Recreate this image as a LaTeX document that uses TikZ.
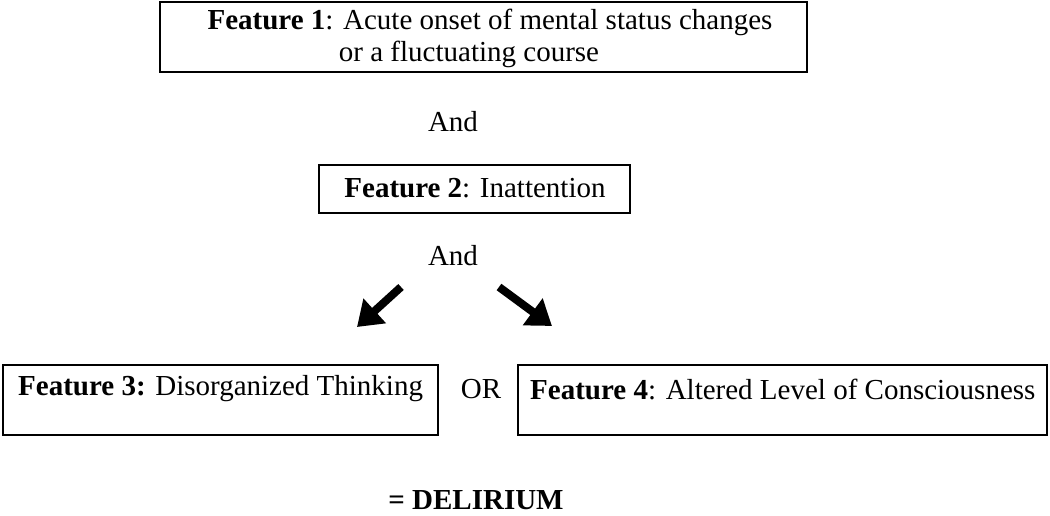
\documentclass[tikz,border=0pt]{standalone}
\usepackage{fontspec}
\setmainfont{Liberation Serif}
\usetikzlibrary{arrows.meta}
\begin{document}
\begin{tikzpicture}[x=1pt,y=-1pt,
  box/.style={draw,line width=1.5pt},
  txt/.style={inner sep=0pt,font=\fontsize{29}{33}\selectfont},
  bigarrow/.style={line width=8pt,-{Triangle[length=24pt,width=32pt]}}]
\useasboundingbox (0,0) rectangle (1050,516);
\draw[box] (160,2) rectangle (807,72);
\node[txt] (f1a) at (490,22) {\textbf{Feature 1}: Acute onset of mental status changes};
\node[txt] (f1b) at (469,54) {or a fluctuating course};
\node[txt] (and1) at (453,122) {And};
\draw[box] (319,165) rectangle (630,213);
\node[txt] (f2) at (475,188) {\textbf{Feature 2}: Inattention};
\node[txt] (and2) at (453,256) {And};
\coordinate (la) at (401,287);
\coordinate (lb) at (357,327);
\coordinate (ra) at (499,287);
\coordinate (rb) at (552,326);
\draw[bigarrow] (la) -- (lb);
\draw[bigarrow] (ra) -- (rb);
\draw[box] (3,365) rectangle (438,435);
\node[txt,anchor=west] (f3) at (18,389) {\textbf{Feature 3:} Disorganized Thinking};
\node[txt] (or) at (481,389) {OR};
\draw[box] (518,365) rectangle (1047,435);
\node[txt,anchor=west] (f4) at (530,389) {\textbf{Feature 4}: Altered Level of Consciousness};
\node[txt] (del) at (476,500) {\textbf{= DELIRIUM}};
\end{tikzpicture}
\end{document}
